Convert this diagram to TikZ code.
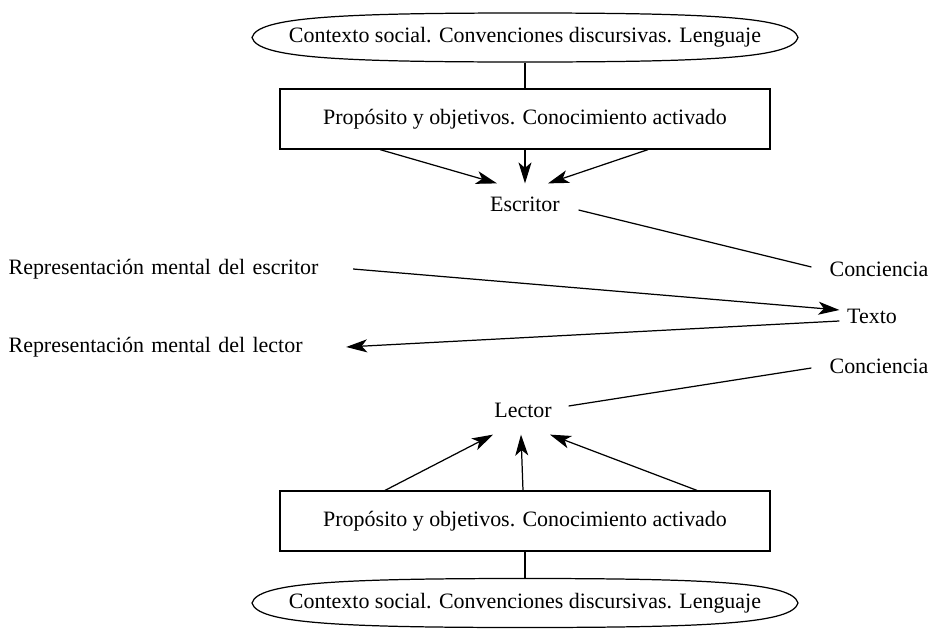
\documentclass[tikz,border=0pt]{standalone}
\usepackage{fontspec}
\setmainfont{Liberation Serif}
\usetikzlibrary{arrows.meta}

% lens drawn round a named node
\newcommand{\lensat}[1]{%
  \draw ([xshift=-5.46cm]#1.center)
    .. controls ([xshift=-5.36cm,yshift=0.4cm]#1.center) and ([xshift=-3.8cm,yshift=0.49cm]#1.center) .. ([yshift=0.49cm]#1.center)
    .. controls ([xshift=3.8cm,yshift=0.49cm]#1.center) and ([xshift=5.36cm,yshift=0.4cm]#1.center) .. ([xshift=5.46cm]#1.center)
    .. controls ([xshift=5.36cm,yshift=-0.4cm]#1.center) and ([xshift=3.8cm,yshift=-0.49cm]#1.center) .. ([yshift=-0.49cm]#1.center)
    .. controls ([xshift=-3.8cm,yshift=-0.49cm]#1.center) and ([xshift=-5.36cm,yshift=-0.4cm]#1.center) .. ([xshift=-5.46cm]#1.center) -- cycle;}

\begin{document}
\begin{tikzpicture}[x=0.02cm,y=-0.02cm,line width=0.7pt,
    every node/.style={font=\fontsize{12.5}{15}\selectfont},
    ctxbox/.style={minimum width=10.92cm,minimum height=0.98cm},
    goalbox/.style={draw,minimum width=9.8cm,minimum height=1.2cm},
    actor/.style={minimum width=#1,minimum height=0.8cm},
    repbox/.style={anchor=west,inner xsep=0pt,align=left,text width=#1},
    arr/.style={-{Stealth[length=4.2mm,width=2.6mm,inset=1.1mm]}}]
    \useasboundingbox (0,0) rectangle (931,629);

    \node[ctxbox] (ctx1) at (525,37.5) {Contexto social. Convenciones discursivas. Lenguaje};
    \lensat{ctx1}
    \node[goalbox] (goal1) at (525,119) {Propósito y objetivos. Conocimiento activado};
    \node[actor=2.12cm] (esc) at (525,204) {Escritor};

    \node[actor=2.68cm] (con1) at (879,269) {Conciencia};
    \node[actor=1.28cm] (texto) at (872,316) {Texto};
    \node[actor=2.68cm] (con2) at (879,366) {Conciencia};

    \node[repbox=6.88cm] (repE) at (8,269) {Representación mental del escritor};
    \node[repbox=6.74cm] (repL) at (8,347) {Representación mental del lector};

    \node[actor=1.8cm,minimum height=0.96cm] (lec) at (523,410) {Lector};
    \node[goalbox] (goal2) at (525,521) {Propósito y objetivos. Conocimiento activado};
    \node[ctxbox] (ctx2) at (525,603) {Contexto social. Convenciones discursivas. Lenguaje};
    \lensat{ctx2}

    \path [-] (ctx1.south) edge node {} (goal1.north);
    \path [arr] ([xshift=-2.9cm]goal1.south) edge node {} ([xshift=-0.56cm]esc.north);
    \path [arr] (goal1.south) edge node {} (esc.north);
    \path [arr] ([xshift=2.46cm]goal1.south) edge node {} ([xshift=0.46cm]esc.north);

    \path [-] ([yshift=-0.12cm]esc.east) edge node {} ([yshift=0.04cm]con1.west);
    \path [arr] (repE.east) edge node {} ([yshift=0.12cm]texto.west);
    \path [arr] ([yshift=-0.1cm]texto.west) edge node {} (repL.east);
    \path [-] ([yshift=0.08cm]lec.east) edge node {} ([yshift=-0.04cm]con2.west);

    \path [arr] ([xshift=-2.8cm]goal2.north) edge node {} ([xshift=-0.6cm]lec.south);
    \path [arr] ([xshift=-0.04cm]goal2.north) edge node {} ([xshift=-0.04cm]lec.south);
    \path [arr] ([xshift=3.44cm]goal2.north) edge node {} ([xshift=0.54cm]lec.south);
    \path [-] (goal2.south) edge node {} (ctx2.north);
\end{tikzpicture}
\end{document}
